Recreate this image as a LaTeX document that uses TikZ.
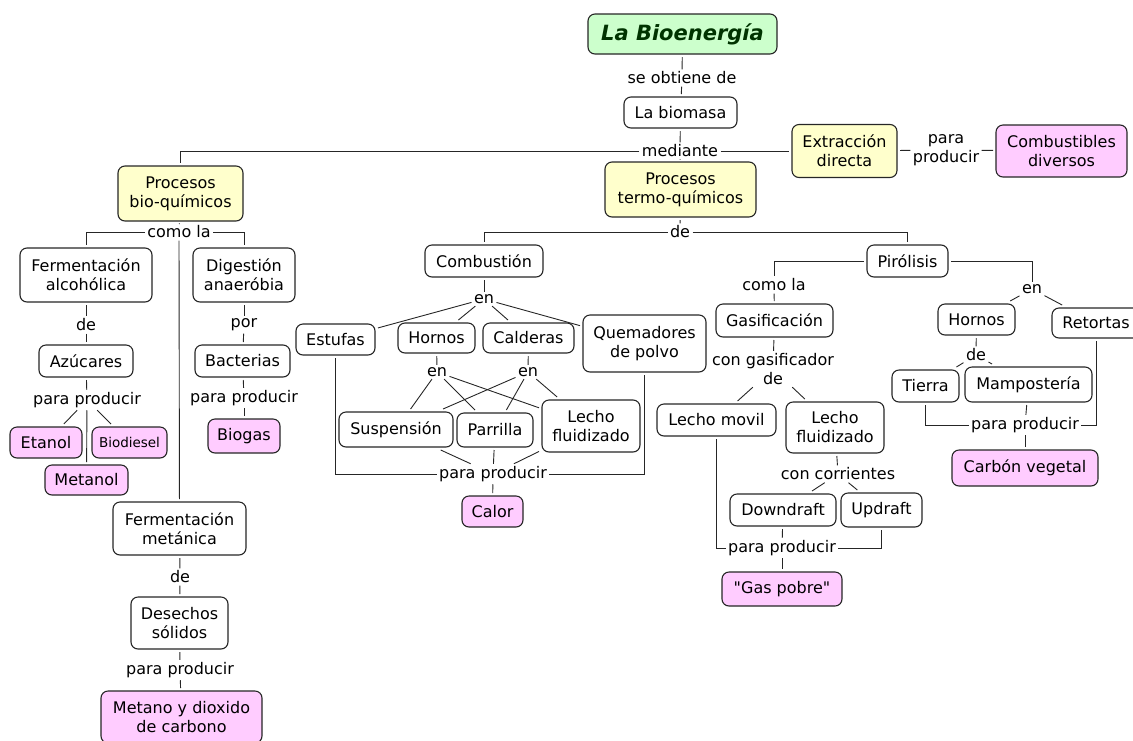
\documentclass[tikz,border=0pt]{standalone}
\usepackage{fontspec}
\setmainfont{DejaVu Sans}
% same family without the TeX input mapping, so that " stays straight
\newfontfamily\rawfont{DejaVu Sans}[Ligatures=ResetAll]
\definecolor{cgreen}{HTML}{CCFFCC}
\definecolor{cyellow}{HTML}{FFFFCC}
\definecolor{cpink}{HTML}{FFCCFF}
\definecolor{tgreen}{HTML}{003300}
\begin{document}
\begin{tikzpicture}[x=1pt,y=-1pt,
  concept/.style={draw=black!85, line width=1.1pt, rounded corners=7pt, fill=white,
    align=center, inner sep=0pt, outer sep=3pt, font=\fontsize{16}{19}\selectfont},
  sz/.style 2 args={minimum width=#1pt, minimum height=#2pt},
  yel/.style={fill=cyellow},
  pnk/.style={fill=cpink},
  lbl/.style={inner sep=2.5pt, outer sep=0pt, align=center, font=\fontsize{16}{19}\selectfont},
  link/.style={line width=0.9pt, draw=black!85}
]
\useasboundingbox (0,0) rectangle (1133,740);

% ---------- top ----------
\node[concept, sz={189}{40}, fill=cgreen, text=tgreen,
  font=\fontsize{21}{25}\selectfont\bfseries\itshape] (bioen) at (682.5,34) {La Bioenergía};
\node[lbl] (seobt) at (682,78) {se obtiene de};
\node[concept, sz={113}{31}] (biomasa) at (680.5,112.5) {La biomasa};
\node[lbl] (mediante) at (680,151) {mediante};
\node[concept, sz={151}{55}, yel] (termo) at (680.5,189.5) {Procesos\\termo-químicos};
\node[concept, sz={105}{53}, yel] (extr) at (844.5,151) {Extracción\\directa};
\node[lbl] (ppextr) at (946,150) {para\\producir};
\node[concept, sz={131}{52}, pnk] (combdiv) at (1061.5,151) {Combustibles\\diversos};

% ---------- bio-chemical branch ----------
\node[concept, sz={125}{55}, yel] (bio) at (180.5,193.5) {Procesos\\bio-químicos};
\node[lbl] (comola1) at (179,232) {como la};
\node[concept, sz={132}{54}] (fermalc) at (86,275) {Fermentación\\alcohólica};
\node[concept, sz={102}{54}] (digest) at (244,275) {Digestión\\anaeróbia};
\node[lbl] (de1) at (86,325) {de};
\node[concept, sz={94}{32}] (azuc) at (86,361) {Azúcares};
\node[lbl] (pp1) at (87,400) {para producir};
\node[concept, sz={72}{31}, pnk] (etanol) at (46,442.5) {Etanol};
\node[concept, sz={75}{31}, pnk, font=\fontsize{13.5}{16}\selectfont] (biodiesel) at (129.5,442.5) {Biodiesel};
\node[concept, sz={83}{30}, pnk] (metanol) at (86.5,480) {Metanol};
\node[lbl] (por) at (244,325) {por};
\node[concept, sz={95}{32}] (bacter) at (242.5,361) {Bacterias};
\node[lbl] (pp2) at (244,398) {para producir};
\node[concept, sz={72}{34}, pnk] (biogas) at (244,436) {Biogas};
\node[concept, sz={133}{53}] (fermmet) at (179.5,528.5) {Fermentación\\metánica};
\node[lbl] (de3) at (180,577) {de};
\node[concept, sz={97}{52}] (desech) at (179.5,623) {Desechos\\sólidos};
\node[lbl] (pp4) at (180,670) {para producir};
\node[concept, sz={161}{52}, pnk] (metano) at (181.5,717) {Metano y dioxido\\de carbono};

% ---------- thermo-chemical branch ----------
\node[lbl] (de2) at (680,232) {de};
\node[concept, sz={118}{32}] (combus) at (484,261) {Combustión};
\node[lbl] (en1) at (484,299) {en};
\node[concept, sz={79}{31}] (estufas) at (335.5,339.5) {Estufas};
\node[concept, sz={77}{30}] (hornos1) at (436.5,338) {Hornos};
\node[concept, sz={91}{30}] (calderas) at (528.5,338) {Calderas};
\node[concept, sz={123}{57}] (quem) at (644.5,343.5) {Quemadores\\de polvo};
\node[lbl] (en2) at (437,372) {en};
\node[lbl] (en3) at (528,372) {en};
\node[concept, sz={114}{35}] (susp) at (396,429.5) {Suspensión};
\node[concept, sz={76}{34}] (parrilla) at (495,430) {Parrilla};
\node[concept, sz={98}{52}] (lecho1) at (591,426) {Lecho\\fluidizado};
\node[lbl] (pp3) at (493,474) {para producir};
\node[concept, sz={61}{31}, pnk] (calor) at (492.5,511.5) {Calor};

% ---------- pyrolysis ----------
\node[concept, sz={81}{32}] (piro) at (907.5,261) {Pirólisis};
\node[lbl] (comola2) at (774,285) {como la};
\node[concept, sz={117}{33}] (gasif) at (774.5,320.5) {Gasificación};
\node[lbl] (congas) at (773,369) {con gasificador\\de};
\node[concept, sz={119}{32}] (lmovil) at (716.5,420) {Lecho movil};
\node[concept, sz={98}{51}] (lecho2) at (835,427.5) {Lecho\\fluidizado};
\node[lbl] (concorr) at (838,474) {con corrientes};
\node[concept, sz={106}{32}] (down) at (783,510) {Downdraft};
\node[concept, sz={81}{34}] (up) at (881.5,510) {Updraft};
\node[lbl] (pp5) at (782,548) {para producir};
\node[concept, sz={120}{34}, pnk, font=\fontsize{16}{19}\rawfont] (gas) at (782,589) {"Gas pobre"};

\node[lbl] (en4) at (1032,289) {en};
\node[concept, sz={77}{31}] (hornos2) at (976.5,319.5) {Hornos};
\node[concept, sz={88}{30}] (retortas) at (1096,323) {Retortas};
\node[lbl] (de4) at (976,355) {de};
\node[concept, sz={67}{32}] (tierra) at (925.5,386) {Tierra};
\node[concept, sz={127}{35}] (mamp) at (1028.5,384.5) {Mampostería};
\node[lbl] (pp6) at (1025,425) {para producir};
\node[concept, sz={146}{36}, pnk] (carbon) at (1025,468) {Carbón vegetal};

% ---------- connectors ----------
\begin{scope}[link]
\draw (bioen) -- (seobt);
\draw (seobt) -- (biomasa);
\draw (biomasa) -- (mediante);
\draw (mediante) -| (bio);
\draw (mediante) -- (termo);
\draw (mediante) -- (extr);
\draw (extr) -- (ppextr);
\draw (ppextr) -- (combdiv);

\draw (bio) -- (comola1);
\draw (comola1) -| (fermalc);
\draw (comola1) -| (digest);
\draw (comola1) -- (fermmet);
\draw (fermalc) -- (de1);
\draw (de1) -- (azuc);
\draw (azuc) -- (pp1);
\draw (pp1) -- (etanol);
\draw (pp1) -- (metanol);
\draw (pp1) -- (biodiesel);
\draw (digest) -- (por);
\draw (por) -- (bacter);
\draw (bacter) -- (pp2);
\draw (pp2) -- (biogas);
\draw (fermmet) -- (de3);
\draw (de3) -- (desech);
\draw (desech) -- (pp4);
\draw (pp4) -- (metano);

\draw (termo) -- (de2);
\draw (de2) -| (combus);
\draw (de2) -| (piro);
\draw (combus) -- (en1);
\draw (en1) -- (estufas);
\draw (en1) -- (hornos1);
\draw (en1) -- (calderas);
\draw (en1) -- (quem);
\draw (hornos1) -- (en2);
\draw (calderas) -- (en3);
\draw (en2) -- (susp);
\draw (en2) -- (parrilla);
\draw (en2) -- (lecho1);
\draw (en3) -- (susp);
\draw (en3) -- (parrilla);
\draw (en3) -- (lecho1);
\draw (estufas) |- (pp3);
\draw (quem) |- (pp3);
\draw (susp) -- (pp3);
\draw (parrilla) -- (pp3);
\draw (lecho1) -- (pp3);
\draw (pp3) -- (calor);

\draw (piro) -| (comola2);
\draw (piro) -| (en4);
\draw (comola2) -- (gasif);
\draw (gasif) -- (congas);
\draw (congas) -- (lmovil);
\draw (congas) -- (lecho2);
\draw (lecho2) -- (concorr);
\draw (concorr) -- (down);
\draw (concorr) -- (up);
\draw (lmovil) |- (pp5);
\draw (up) |- (pp5);
\draw (down) -- (pp5);
\draw (pp5) -- (gas);
\draw (en4) -- (hornos2);
\draw (en4) -- (retortas);
\draw (hornos2) -- (de4);
\draw (de4) -- (tierra);
\draw (de4) -- (mamp);
\draw (tierra) |- (pp6);
\draw (retortas) |- (pp6);
\draw (mamp) -- (pp6);
\draw (pp6) -- (carbon);
\end{scope}
\end{tikzpicture}
\end{document}
